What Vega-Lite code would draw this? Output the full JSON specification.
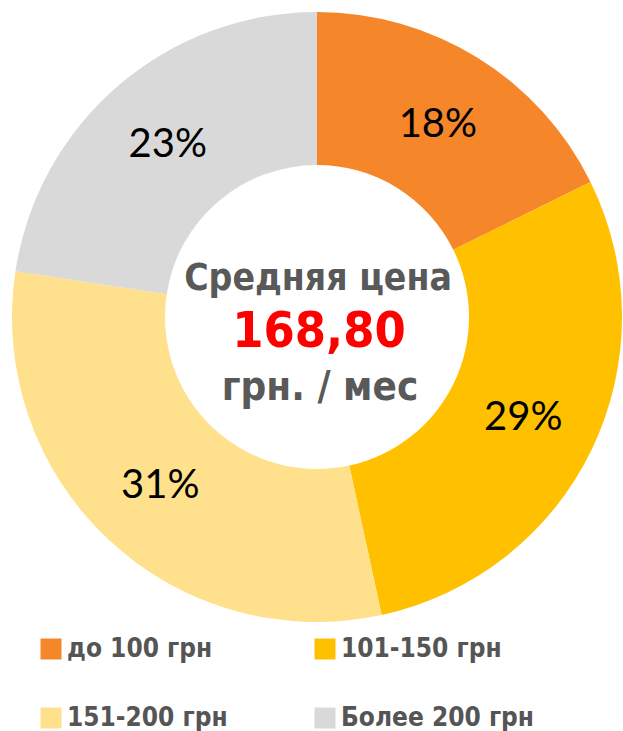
{
  "$schema": "https://vega.github.io/schema/vega-lite/v6.json",
  "width": 612,
  "height": 612,
  "autosize": {"type": "none"},
  "padding": {"left": 11, "top": 11, "right": 0, "bottom": 108},
  "background": "white",
  "config": {"view": {"stroke": null}},
  "data": {
    "values": [
      {"k": 1, "cat": "до 100 грн", "value": 17.7, "label": "18%"},
      {"k": 2, "cat": "101-150 грн", "value": 28.9, "label": "29%"},
      {"k": 3, "cat": "151-200 грн", "value": 30.8, "label": "31%"},
      {"k": 4, "cat": "Более 200 грн", "value": 22.6, "label": "23%"}
    ]
  },
  "encoding": {
    "theta": {"field": "value", "type": "quantitative", "stack": true},
    "order": {"field": "k", "type": "quantitative"}
  },
  "layer": [
    {
      "mark": {"type": "arc", "outerRadius": 305, "innerRadius": 152},
      "encoding": {
        "color": {
          "field": "cat",
          "type": "nominal",
          "scale": {
            "domain": ["до 100 грн", "101-150 грн", "151-200 грн", "Более 200 грн"],
            "range": ["#F5862A", "#FFC000", "#FFE08C", "#D9D9D9"]
          },
          "legend": {
            "title": null,
            "orient": "none",
            "legendX": 27,
            "legendY": 625,
            "direction": "horizontal",
            "columns": 2,
            "padding": 0,
            "columnPadding": 84,
            "rowPadding": 43,
            "symbolType": "square",
            "symbolSize": 440,
            "symbolStrokeWidth": 0,
            "symbolOffset": 0,
            "labelOffset": 3,
            "labelFont": "DejaVu Sans Condensed",
            "labelFontWeight": "bold",
            "labelFontSize": 26,
            "labelColor": "#555555",
            "labelLimit": 400
          }
        }
      }
    },
    {
      "mark": {"type": "text", "radius": 229, "font": "Lato", "fontSize": 40, "color": "black", "baseline": "middle", "align": "center", "dy": 2},
      "encoding": {
        "text": {"field": "label", "type": "nominal"}
      }
    },
    {
      "data": {"values": [{"line": "Средняя цена"}]},
      "mark": {"type": "text", "font": "DejaVu Sans Condensed", "fontWeight": "bold", "fontSize": 37, "color": "#595959", "baseline": "alphabetic", "align": "center", "dx": 1, "dy": -27},
      "encoding": {"text": {"field": "line", "type": "nominal"}, "theta": null, "order": null}
    },
    {
      "data": {"values": [{"line": "168,80"}]},
      "mark": {"type": "text", "font": "DejaVu Sans Condensed", "fontWeight": "bold", "fontSize": 50, "color": "#FF0000", "baseline": "alphabetic", "align": "center", "dx": 2, "dy": 30},
      "encoding": {"text": {"field": "line", "type": "nominal"}, "theta": null, "order": null}
    },
    {
      "data": {"values": [{"line": "грн. / мес"}]},
      "mark": {"type": "text", "font": "DejaVu Sans Condensed", "fontWeight": "bold", "fontSize": 40, "color": "#595959", "baseline": "alphabetic", "align": "center", "dx": 3, "dy": 83},
      "encoding": {"text": {"field": "line", "type": "nominal"}, "theta": null, "order": null}
    }
  ]
}
